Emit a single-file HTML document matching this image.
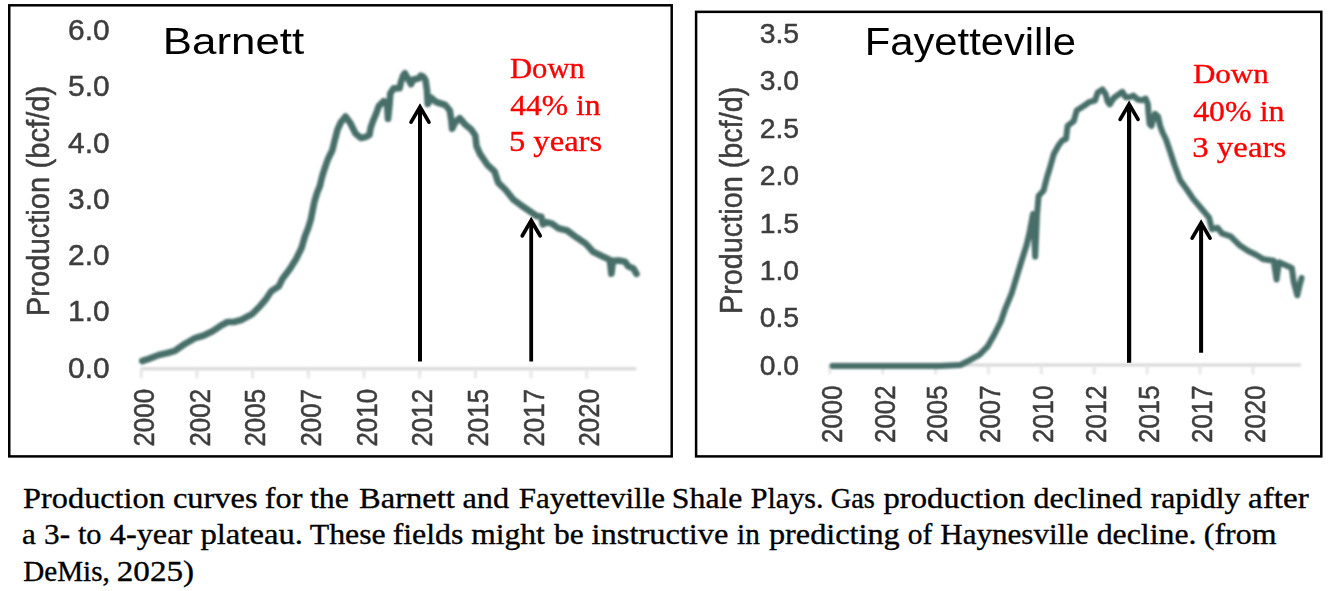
<!DOCTYPE html>
<html><head><meta charset="utf-8"><title>Production curves</title>
<style>
html,body{margin:0;padding:0;background:#fff;overflow:hidden}
svg{display:block;font-family:"Liberation Sans",sans-serif}
text{white-space:pre}
</style></head><body>
<svg width="1336" height="591" viewBox="0 0 1336 591">
<defs>
<filter id="b1" x="-5%" y="-5%" width="110%" height="110%"><feGaussianBlur stdDeviation="1.05"/></filter>
<filter id="b3" x="-5%" y="-50%" width="110%" height="200%" filterUnits="objectBoundingBox"><feGaussianBlur stdDeviation="0.9"/></filter>
<filter id="b2" x="-20%" y="-20%" width="140%" height="140%"><feGaussianBlur stdDeviation="0.65"/></filter>
</defs>
<rect x="0" y="0" width="1336" height="591" fill="#fff"/>
<rect x="9.25" y="5.3" width="662.45" height="451.1" fill="none" stroke="#000" stroke-width="2.5"/>
<rect x="696.1" y="11.85" width="625.2" height="444.55" fill="none" stroke="#000" stroke-width="2.5"/>
<g stroke="#d7d7d7" stroke-width="3" filter="url(#b3)">
<line x1="140.5" y1="368.7" x2="636.3" y2="368.7"/>
<line x1="141.25" y1="369" x2="141.25" y2="378.3" stroke-width="2.8" stroke="#e5e5e5"/>
<line x1="196.93" y1="369" x2="196.93" y2="378.3" stroke-width="2.8" stroke="#e5e5e5"/>
<line x1="252.61" y1="369" x2="252.61" y2="378.3" stroke-width="2.8" stroke="#e5e5e5"/>
<line x1="308.29" y1="369" x2="308.29" y2="378.3" stroke-width="2.8" stroke="#e5e5e5"/>
<line x1="363.97" y1="369" x2="363.97" y2="378.3" stroke-width="2.8" stroke="#e5e5e5"/>
<line x1="419.65" y1="369" x2="419.65" y2="378.3" stroke-width="2.8" stroke="#e5e5e5"/>
<line x1="475.33" y1="369" x2="475.33" y2="378.3" stroke-width="2.8" stroke="#e5e5e5"/>
<line x1="531.01" y1="369" x2="531.01" y2="378.3" stroke-width="2.8" stroke="#e5e5e5"/>
<line x1="586.69" y1="369" x2="586.69" y2="378.3" stroke-width="2.8" stroke="#e5e5e5"/>
</g>
<g stroke="#d7d7d7" stroke-width="3" filter="url(#b3)">
<line x1="829" y1="365" x2="1301" y2="365"/>
<line x1="829.90" y1="365" x2="829.90" y2="374.3" stroke-width="2.8" stroke="#e5e5e5"/>
<line x1="882.77" y1="365" x2="882.77" y2="374.3" stroke-width="2.8" stroke="#e5e5e5"/>
<line x1="935.64" y1="365" x2="935.64" y2="374.3" stroke-width="2.8" stroke="#e5e5e5"/>
<line x1="988.51" y1="365" x2="988.51" y2="374.3" stroke-width="2.8" stroke="#e5e5e5"/>
<line x1="1041.38" y1="365" x2="1041.38" y2="374.3" stroke-width="2.8" stroke="#e5e5e5"/>
<line x1="1094.25" y1="365" x2="1094.25" y2="374.3" stroke-width="2.8" stroke="#e5e5e5"/>
<line x1="1147.12" y1="365" x2="1147.12" y2="374.3" stroke-width="2.8" stroke="#e5e5e5"/>
<line x1="1199.99" y1="365" x2="1199.99" y2="374.3" stroke-width="2.8" stroke="#e5e5e5"/>
<line x1="1252.86" y1="365" x2="1252.86" y2="374.3" stroke-width="2.8" stroke="#e5e5e5"/>
</g>
<g filter="url(#b2)">
<text transform="translate(68.10,39.90) scale(0.2994,0.2925)" font-family="Liberation Sans" font-size="100" fill="#3d3d3d" stroke="#3d3d3d" stroke-width="1.69" stroke-linejoin="round">6.0</text>
<text transform="translate(68.10,96.20) scale(0.2994,0.2925)" font-family="Liberation Sans" font-size="100" fill="#3d3d3d" stroke="#3d3d3d" stroke-width="1.69" stroke-linejoin="round">5.0</text>
<text transform="translate(68.10,152.50) scale(0.2994,0.2925)" font-family="Liberation Sans" font-size="100" fill="#3d3d3d" stroke="#3d3d3d" stroke-width="1.69" stroke-linejoin="round">4.0</text>
<text transform="translate(68.10,208.80) scale(0.2994,0.2925)" font-family="Liberation Sans" font-size="100" fill="#3d3d3d" stroke="#3d3d3d" stroke-width="1.69" stroke-linejoin="round">3.0</text>
<text transform="translate(68.10,265.10) scale(0.2994,0.2925)" font-family="Liberation Sans" font-size="100" fill="#3d3d3d" stroke="#3d3d3d" stroke-width="1.69" stroke-linejoin="round">2.0</text>
<text transform="translate(68.10,321.40) scale(0.2994,0.2925)" font-family="Liberation Sans" font-size="100" fill="#3d3d3d" stroke="#3d3d3d" stroke-width="1.69" stroke-linejoin="round">1.0</text>
<text transform="translate(68.10,377.70) scale(0.2994,0.2925)" font-family="Liberation Sans" font-size="100" fill="#3d3d3d" stroke="#3d3d3d" stroke-width="1.69" stroke-linejoin="round">0.0</text>
<text transform="translate(759.74,42.75) scale(0.2834,0.2767)" font-family="Liberation Sans" font-size="100" fill="#3d3d3d" stroke="#3d3d3d" stroke-width="1.79" stroke-linejoin="round">3.5</text>
<text transform="translate(759.74,90.20) scale(0.2834,0.2767)" font-family="Liberation Sans" font-size="100" fill="#3d3d3d" stroke="#3d3d3d" stroke-width="1.79" stroke-linejoin="round">3.0</text>
<text transform="translate(759.74,137.65) scale(0.2834,0.2767)" font-family="Liberation Sans" font-size="100" fill="#3d3d3d" stroke="#3d3d3d" stroke-width="1.79" stroke-linejoin="round">2.5</text>
<text transform="translate(759.74,185.10) scale(0.2834,0.2767)" font-family="Liberation Sans" font-size="100" fill="#3d3d3d" stroke="#3d3d3d" stroke-width="1.79" stroke-linejoin="round">2.0</text>
<text transform="translate(759.74,232.55) scale(0.2834,0.2767)" font-family="Liberation Sans" font-size="100" fill="#3d3d3d" stroke="#3d3d3d" stroke-width="1.79" stroke-linejoin="round">1.5</text>
<text transform="translate(759.74,280.00) scale(0.2834,0.2767)" font-family="Liberation Sans" font-size="100" fill="#3d3d3d" stroke="#3d3d3d" stroke-width="1.79" stroke-linejoin="round">1.0</text>
<text transform="translate(759.74,327.45) scale(0.2834,0.2767)" font-family="Liberation Sans" font-size="100" fill="#3d3d3d" stroke="#3d3d3d" stroke-width="1.79" stroke-linejoin="round">0.5</text>
<text transform="translate(759.74,374.90) scale(0.2834,0.2767)" font-family="Liberation Sans" font-size="100" fill="#3d3d3d" stroke="#3d3d3d" stroke-width="1.79" stroke-linejoin="round">0.0</text>
<text transform="translate(153.95,446.60) rotate(-90) scale(0.2595,0.2925)" font-family="Liberation Sans" font-size="100" fill="#3d3d3d" stroke="#3d3d3d" stroke-width="1.81" stroke-linejoin="round">2000</text>
<text transform="translate(209.63,446.60) rotate(-90) scale(0.2595,0.2925)" font-family="Liberation Sans" font-size="100" fill="#3d3d3d" stroke="#3d3d3d" stroke-width="1.81" stroke-linejoin="round">2002</text>
<text transform="translate(265.31,446.60) rotate(-90) scale(0.2595,0.2925)" font-family="Liberation Sans" font-size="100" fill="#3d3d3d" stroke="#3d3d3d" stroke-width="1.81" stroke-linejoin="round">2005</text>
<text transform="translate(320.99,446.60) rotate(-90) scale(0.2595,0.2925)" font-family="Liberation Sans" font-size="100" fill="#3d3d3d" stroke="#3d3d3d" stroke-width="1.81" stroke-linejoin="round">2007</text>
<text transform="translate(376.67,446.60) rotate(-90) scale(0.2595,0.2925)" font-family="Liberation Sans" font-size="100" fill="#3d3d3d" stroke="#3d3d3d" stroke-width="1.81" stroke-linejoin="round">2010</text>
<text transform="translate(432.35,446.60) rotate(-90) scale(0.2595,0.2925)" font-family="Liberation Sans" font-size="100" fill="#3d3d3d" stroke="#3d3d3d" stroke-width="1.81" stroke-linejoin="round">2012</text>
<text transform="translate(488.03,446.60) rotate(-90) scale(0.2595,0.2925)" font-family="Liberation Sans" font-size="100" fill="#3d3d3d" stroke="#3d3d3d" stroke-width="1.81" stroke-linejoin="round">2015</text>
<text transform="translate(543.71,446.60) rotate(-90) scale(0.2595,0.2925)" font-family="Liberation Sans" font-size="100" fill="#3d3d3d" stroke="#3d3d3d" stroke-width="1.81" stroke-linejoin="round">2017</text>
<text transform="translate(599.39,446.60) rotate(-90) scale(0.2595,0.2925)" font-family="Liberation Sans" font-size="100" fill="#3d3d3d" stroke="#3d3d3d" stroke-width="1.81" stroke-linejoin="round">2020</text>
<text transform="translate(841.70,442.89) rotate(-90) scale(0.2581,0.2953)" font-family="Liberation Sans" font-size="100" fill="#3d3d3d" stroke="#3d3d3d" stroke-width="1.81" stroke-linejoin="round">2000</text>
<text transform="translate(894.57,442.89) rotate(-90) scale(0.2581,0.2953)" font-family="Liberation Sans" font-size="100" fill="#3d3d3d" stroke="#3d3d3d" stroke-width="1.81" stroke-linejoin="round">2002</text>
<text transform="translate(947.44,442.89) rotate(-90) scale(0.2581,0.2953)" font-family="Liberation Sans" font-size="100" fill="#3d3d3d" stroke="#3d3d3d" stroke-width="1.81" stroke-linejoin="round">2005</text>
<text transform="translate(1000.31,442.89) rotate(-90) scale(0.2581,0.2953)" font-family="Liberation Sans" font-size="100" fill="#3d3d3d" stroke="#3d3d3d" stroke-width="1.81" stroke-linejoin="round">2007</text>
<text transform="translate(1053.18,442.89) rotate(-90) scale(0.2581,0.2953)" font-family="Liberation Sans" font-size="100" fill="#3d3d3d" stroke="#3d3d3d" stroke-width="1.81" stroke-linejoin="round">2010</text>
<text transform="translate(1106.05,442.89) rotate(-90) scale(0.2581,0.2953)" font-family="Liberation Sans" font-size="100" fill="#3d3d3d" stroke="#3d3d3d" stroke-width="1.81" stroke-linejoin="round">2012</text>
<text transform="translate(1158.92,442.89) rotate(-90) scale(0.2581,0.2953)" font-family="Liberation Sans" font-size="100" fill="#3d3d3d" stroke="#3d3d3d" stroke-width="1.81" stroke-linejoin="round">2015</text>
<text transform="translate(1211.79,442.89) rotate(-90) scale(0.2581,0.2953)" font-family="Liberation Sans" font-size="100" fill="#3d3d3d" stroke="#3d3d3d" stroke-width="1.81" stroke-linejoin="round">2017</text>
<text transform="translate(1264.66,442.89) rotate(-90) scale(0.2581,0.2953)" font-family="Liberation Sans" font-size="100" fill="#3d3d3d" stroke="#3d3d3d" stroke-width="1.81" stroke-linejoin="round">2020</text>
<text transform="translate(49.10,316.31) rotate(-90) scale(0.2923,0.3127)" font-family="Liberation Sans" font-size="100" fill="#3d3d3d"  stroke="#3d3d3d" stroke-width="1.65" stroke-linejoin="round">Production (bcf/d)</text>
<text transform="translate(741.80,313.98) rotate(-90) scale(0.2880,0.3084)" font-family="Liberation Sans" font-size="100" fill="#3d3d3d"  stroke="#3d3d3d" stroke-width="1.68" stroke-linejoin="round">Production (bcf/d)</text>
</g>
<text transform="translate(162.78,54.20) scale(0.4386,0.3782)" font-family="Liberation Sans" font-size="100" fill="#000" >Barnett</text>
<text transform="translate(864.75,54.50) scale(0.4176,0.3825)" font-family="Liberation Sans" font-size="100" fill="#000" >Fayetteville</text>
<g fill="none" stroke="#466e69" stroke-width="6.6" stroke-linejoin="round" stroke-linecap="round" filter="url(#b1)">
<polyline points="142.3,361.0 148.8,358.8 158.8,355.0 167.5,353.0 175.0,350.8 185.0,343.8 195.0,338.2 203.8,335.5 212.5,331.2 220.0,326.2 227.5,322.0 233.8,322.0 241.2,320.0 252.5,313.8 260.0,306.2 266.2,298.8 271.2,291.2 278.8,286.2 282.5,278.8 290.0,268.8 296.2,258.8 301.5,248.0 305.0,236.0 308.2,228.0 310.7,219.9 314.3,202.1 317.0,193.0 320.0,185.5 322.0,177.0 324.9,167.8 328.0,159.0 332.4,150.0 333.8,144.0 337.5,129.6 341.0,122.0 345.5,116.6 350.3,123.0 355.5,133.5 360.9,138.0 365.5,137.0 369.5,134.8 370.6,128.0 373.0,121.0 376.0,114.0 378.8,106.2 383.8,101.2 387.0,102.5 388.0,118.8 389.5,105.0 390.3,93.5 393.5,88.4 399.6,88.2 401.1,81.3 403.4,75.2 404.9,73.2 407.2,77.5 408.7,80.0 411.0,84.2 413.3,79.6 418.6,78.6 420.9,75.6 423.5,77.0 425.5,80.0 427.0,90.5 427.8,104.0 430.8,97.5 436.1,102.0 445.3,105.0 449.8,110.5 451.4,121.0 452.1,128.8 455.2,122.4 459.7,118.2 465.1,124.5 471.2,129.5 475.3,135.5 476.5,146.2 480.0,153.8 487.5,165.0 494.5,171.4 498.2,182.6 505.7,190.0 513.1,199.3 520.6,204.9 529.1,210.7 536.7,216.0 541.3,216.7 542.8,224.4 546.6,222.1 552.0,223.6 558.1,228.2 567.2,230.5 576.3,237.3 585.5,243.4 593.1,251.8 602.2,256.3 609.8,259.7 611.4,273.8 612.9,260.9 619.0,260.6 625.0,261.7 628.1,266.2 633.4,268.5 636.5,273.8"/>
<polyline points="832.6,366.0 940.0,365.9 960.3,365.0 969.8,360.2 979.3,354.8 987.4,346.7 994.1,335.0 1000.9,321.5 1005.0,309.3 1011.7,293.1 1015.8,279.6 1021.2,262.0 1026.6,245.0 1029.8,231.1 1033.0,214.0 1035.2,256.6 1037.0,215.0 1038.6,196.0 1043.6,190.5 1047.0,177.0 1050.0,167.5 1053.8,154.0 1058.5,145.5 1062.0,140.8 1066.0,138.8 1067.6,125.8 1073.7,121.2 1076.7,110.5 1083.3,106.3 1089.8,101.8 1095.0,100.5 1097.7,92.5 1102.4,89.5 1105.6,94.0 1107.6,101.5 1109.8,104.4 1113.8,98.0 1118.3,94.6 1122.3,91.8 1125.8,97.3 1129.4,97.2 1133.5,95.6 1137.6,99.5 1141.6,100.2 1145.7,98.6 1147.9,104.4 1148.5,113.5 1149.7,124.2 1151.5,126.0 1153.2,118.6 1155.0,113.8 1158.0,116.5 1160.2,126.0 1162.6,132.5 1166.0,139.5 1170.0,151.2 1174.3,164.5 1180.2,180.2 1187.4,190.3 1193.2,198.9 1201.8,209.0 1209.0,217.6 1211.9,229.1 1217.6,227.7 1221.9,233.4 1230.6,236.3 1239.2,244.9 1247.8,250.7 1256.4,255.0 1263.6,259.3 1273.7,260.8 1276.6,279.5 1278.9,262.2 1285.2,265.1 1291.8,268.0 1293.8,282.3 1297.3,295.3 1299.6,285.2 1301.6,278.0" stroke-width="6.0"/>
</g>
<line x1="420.0" y1="361.5" x2="420.0" y2="107.5" stroke="#000" stroke-width="4.0"/><polyline points="411.05,122.10 420.0,106.80 428.95,122.10" fill="none" stroke="#000" stroke-width="3.7" stroke-linecap="round" stroke-linejoin="miter" stroke-miterlimit="10"/>
<line x1="531.2" y1="361.5" x2="531.2" y2="221.2" stroke="#000" stroke-width="3.8"/><polyline points="522.25,235.80 531.2,220.50 540.15,235.80" fill="none" stroke="#000" stroke-width="3.7" stroke-linecap="round" stroke-linejoin="miter" stroke-miterlimit="10"/>
<line x1="1129.1" y1="362.8" x2="1129.1" y2="104.8" stroke="#000" stroke-width="4.2"/><polyline points="1120.15,119.40 1129.1,104.10 1138.05,119.40" fill="none" stroke="#000" stroke-width="3.7" stroke-linecap="round" stroke-linejoin="miter" stroke-miterlimit="10"/>
<line x1="1201.1" y1="352.7" x2="1201.1" y2="223.5" stroke="#000" stroke-width="4.0"/><polyline points="1192.15,238.10 1201.1,222.80 1210.05,238.10" fill="none" stroke="#000" stroke-width="3.7" stroke-linecap="round" stroke-linejoin="miter" stroke-miterlimit="10"/>
<text transform="translate(509.96,77.50) scale(0.3063,0.2855)" font-family="Liberation Serif" font-size="100" fill="#ff0000"  stroke="#ff0000" stroke-width="1.18" stroke-linejoin="round">Down</text>
<text transform="translate(510.17,114.70) scale(0.3165,0.2875)" font-family="Liberation Serif" font-size="100" fill="#ff0000"  stroke="#ff0000" stroke-width="1.16" stroke-linejoin="round">44% in</text>
<text transform="translate(508.92,151.00) scale(0.3262,0.2916)" font-family="Liberation Serif" font-size="100" fill="#ff0000"  stroke="#ff0000" stroke-width="1.13" stroke-linejoin="round">5 years</text>
<text transform="translate(1192.95,83.10) scale(0.3105,0.2824)" font-family="Liberation Serif" font-size="100" fill="#ff0000"  stroke="#ff0000" stroke-width="1.18" stroke-linejoin="round">Down</text>
<text transform="translate(1193.16,120.50) scale(0.3193,0.2875)" font-family="Liberation Serif" font-size="100" fill="#ff0000"  stroke="#ff0000" stroke-width="1.15" stroke-linejoin="round">40% in</text>
<text transform="translate(1192.24,156.60) scale(0.3286,0.2868)" font-family="Liberation Serif" font-size="100" fill="#ff0000"  stroke="#ff0000" stroke-width="1.14" stroke-linejoin="round">3 years</text>
<text transform="translate(23.11,507.70) scale(0.3232,0.2840)" font-family="Liberation Serif" font-size="100" fill="#000"  stroke="#000" stroke-width="1.15" stroke-linejoin="round">Production</text>
<text transform="translate(172.98,507.70) scale(0.3243,0.2840)" font-family="Liberation Serif" font-size="100" fill="#000"  stroke="#000" stroke-width="1.15" stroke-linejoin="round">curves</text>
<text transform="translate(264.83,507.70) scale(0.3228,0.2840)" font-family="Liberation Serif" font-size="100" fill="#000"  stroke="#000" stroke-width="1.15" stroke-linejoin="round">for</text>
<text transform="translate(309.98,507.70) scale(0.3185,0.2840)" font-family="Liberation Serif" font-size="100" fill="#000"  stroke="#000" stroke-width="1.16" stroke-linejoin="round">the</text>
<text transform="translate(359.11,507.70) scale(0.3254,0.2840)" font-family="Liberation Serif" font-size="100" fill="#000"  stroke="#000" stroke-width="1.15" stroke-linejoin="round">Barnett</text>
<text transform="translate(462.47,507.70) scale(0.3242,0.2840)" font-family="Liberation Serif" font-size="100" fill="#000"  stroke="#000" stroke-width="1.15" stroke-linejoin="round">and</text>
<text transform="translate(518.75,507.70) scale(0.3099,0.2840)" font-family="Liberation Serif" font-size="100" fill="#000"  stroke="#000" stroke-width="1.18" stroke-linejoin="round">Fayetteville</text>
<text transform="translate(671.85,507.70) scale(0.3179,0.2840)" font-family="Liberation Serif" font-size="100" fill="#000"  stroke="#000" stroke-width="1.16" stroke-linejoin="round">Shale</text>
<text transform="translate(750.77,507.70) scale(0.3011,0.2840)" font-family="Liberation Serif" font-size="100" fill="#000"  stroke="#000" stroke-width="1.20" stroke-linejoin="round">Plays.</text>
<text transform="translate(830.66,507.70) scale(0.2843,0.2840)" font-family="Liberation Serif" font-size="100" fill="#000"  stroke="#000" stroke-width="1.23" stroke-linejoin="round">Gas</text>
<text transform="translate(883.51,507.70) scale(0.3266,0.2840)" font-family="Liberation Serif" font-size="100" fill="#000"  stroke="#000" stroke-width="1.15" stroke-linejoin="round">production</text>
<text transform="translate(1033.58,507.70) scale(0.3201,0.2840)" font-family="Liberation Serif" font-size="100" fill="#000"  stroke="#000" stroke-width="1.16" stroke-linejoin="round">declined</text>
<text transform="translate(1150.67,507.70) scale(0.3167,0.2840)" font-family="Liberation Serif" font-size="100" fill="#000"  stroke="#000" stroke-width="1.17" stroke-linejoin="round">rapidly</text>
<text transform="translate(1248.04,507.70) scale(0.3317,0.2840)" font-family="Liberation Serif" font-size="100" fill="#000"  stroke="#000" stroke-width="1.14" stroke-linejoin="round">after</text>
<text transform="translate(22.11,544.30) scale(0.3114,0.2840)" font-family="Liberation Serif" font-size="100" fill="#000"  stroke="#000" stroke-width="1.18" stroke-linejoin="round">a</text>
<text transform="translate(44.12,544.30) scale(0.3120,0.2840)" font-family="Liberation Serif" font-size="100" fill="#000"  stroke="#000" stroke-width="1.17" stroke-linejoin="round">3-</text>
<text transform="translate(77.90,544.30) scale(0.3041,0.2840)" font-family="Liberation Serif" font-size="100" fill="#000"  stroke="#000" stroke-width="1.19" stroke-linejoin="round">to</text>
<text transform="translate(109.85,544.30) scale(0.3228,0.2840)" font-family="Liberation Serif" font-size="100" fill="#000"  stroke="#000" stroke-width="1.15" stroke-linejoin="round">4-year</text>
<text transform="translate(200.41,544.30) scale(0.3271,0.2840)" font-family="Liberation Serif" font-size="100" fill="#000"  stroke="#000" stroke-width="1.15" stroke-linejoin="round">plateau.</text>
<text transform="translate(309.74,544.30) scale(0.3183,0.2840)" font-family="Liberation Serif" font-size="100" fill="#000"  stroke="#000" stroke-width="1.16" stroke-linejoin="round">These</text>
<text transform="translate(392.64,544.30) scale(0.3188,0.2840)" font-family="Liberation Serif" font-size="100" fill="#000"  stroke="#000" stroke-width="1.16" stroke-linejoin="round">fields</text>
<text transform="translate(471.17,544.30) scale(0.3155,0.2840)" font-family="Liberation Serif" font-size="100" fill="#000"  stroke="#000" stroke-width="1.17" stroke-linejoin="round">might</text>
<text transform="translate(554.00,544.30) scale(0.3154,0.2840)" font-family="Liberation Serif" font-size="100" fill="#000"  stroke="#000" stroke-width="1.17" stroke-linejoin="round">be</text>
<text transform="translate(591.55,544.30) scale(0.3244,0.2840)" font-family="Liberation Serif" font-size="100" fill="#000"  stroke="#000" stroke-width="1.15" stroke-linejoin="round">instructive</text>
<text transform="translate(737.02,544.30) scale(0.2923,0.2840)" font-family="Liberation Serif" font-size="100" fill="#000"  stroke="#000" stroke-width="1.21" stroke-linejoin="round">in</text>
<text transform="translate(768.92,544.30) scale(0.3229,0.2840)" font-family="Liberation Serif" font-size="100" fill="#000"  stroke="#000" stroke-width="1.15" stroke-linejoin="round">predicting</text>
<text transform="translate(907.80,544.30) scale(0.2943,0.2840)" font-family="Liberation Serif" font-size="100" fill="#000"  stroke="#000" stroke-width="1.21" stroke-linejoin="round">of</text>
<text transform="translate(940.35,544.30) scale(0.3105,0.2840)" font-family="Liberation Serif" font-size="100" fill="#000"  stroke="#000" stroke-width="1.18" stroke-linejoin="round">Haynesville</text>
<text transform="translate(1096.69,544.30) scale(0.3184,0.2840)" font-family="Liberation Serif" font-size="100" fill="#000"  stroke="#000" stroke-width="1.16" stroke-linejoin="round">decline.</text>
<text transform="translate(1203.84,544.30) scale(0.3189,0.2840)" font-family="Liberation Serif" font-size="100" fill="#000"  stroke="#000" stroke-width="1.16" stroke-linejoin="round">(from</text>
<text transform="translate(23.20,580.70) scale(0.2914,0.2840)" font-family="Liberation Serif" font-size="100" fill="#000"  stroke="#000" stroke-width="1.22" stroke-linejoin="round">DeMis,</text>
<text transform="translate(116.79,580.70) scale(0.3315,0.2840)" font-family="Liberation Serif" font-size="100" fill="#000"  stroke="#000" stroke-width="1.14" stroke-linejoin="round">2025)</text>
</svg></body></html>
